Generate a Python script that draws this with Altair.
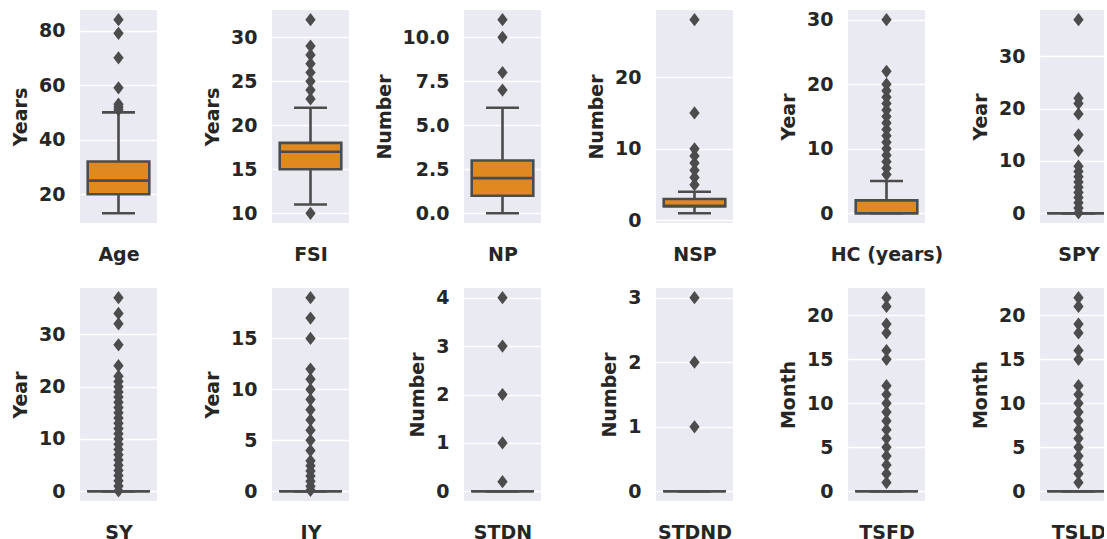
import altair as alt
import pandas as pd

# ---------------- data ----------------
names = ["Age", "FSI", "NP", "NSP", "HC (years)", "SPY",
         "SY", "IY", "STDN", "STDND", "TSFD", "TSLD"]
units = ["Years", "Years", "Number", "Number", "Year", "Year",
         "Year", "Year", "Number", "Number", "Month", "Month"]

whisk_lo = [13, 11, 0, 1, 0, 0, 0, 0, 0, 0, 0, 0]
q1 = [20, 15, 1, 2, 0, 0, 0, 0, 0, 0, 0, 0]
median = [25, 17, 2, 2, 0, 0, 0, 0, 0, 0, 0, 0]
q3 = [32, 18, 3, 3, 2, 0, 0, 0, 0, 0, 0, 0]
whisk_hi = [50, 22, 6, 4, 5, 0, 0, 0, 0, 0, 0, 0]

out_age = [51, 52, 53, 59, 70, 79, 84]
out_fsi = [10, 23, 24, 25, 26, 27, 28, 29, 32]
out_np = [7, 8, 10, 11]
out_nsp = [5, 6, 7, 8, 9, 10, 15, 28]
out_hc = [6, 7, 8, 9, 10, 11, 12, 13, 14, 15, 16, 17, 18, 19, 20, 22, 30]
out_spy = [0.1, 1, 2, 3, 4, 5, 6, 7, 8, 9, 12, 15, 19, 21, 22, 37]
out_sy = [0.1, 1, 2, 3, 4, 5, 6, 7, 8, 9, 10, 11, 12, 13, 14, 15, 16, 17,
          18, 19, 20, 21, 22, 24, 28, 32, 34, 37]
out_iy = [0.1, 0.5, 1, 1.5, 2, 2.5, 3, 4, 5, 6, 7, 8, 9, 10, 11, 12, 15, 17, 19]
out_stdn = [0.2, 1, 2, 3, 4]
out_stdnd = [1, 2, 3]
out_tsfd = [1, 2, 3, 4, 5, 6, 7, 8, 9, 10, 11, 12, 15, 16, 18, 19, 21, 22]
out_tsld = [1, 2, 3, 4, 5, 6, 7, 8, 9, 10, 11, 12, 15, 16, 18, 19, 21, 22]
outliers = [out_age, out_fsi, out_np, out_nsp, out_hc, out_spy,
            out_sy, out_iy, out_stdn, out_stdnd, out_tsfd, out_tsld]

ticks_age = [20, 40, 60, 80]
ticks_fsi = [10, 15, 20, 25, 30]
ticks_np = [0, 2.5, 5, 7.5, 10]
ticks_nsp = [0, 10, 20]
ticks_hc = [0, 10, 20, 30]
ticks_spy = [0, 10, 20, 30]
ticks_sy = [0, 10, 20, 30]
ticks_iy = [0, 5, 10, 15]
ticks_stdn = [0, 1, 2, 3, 4]
ticks_stdnd = [0, 1, 2, 3]
ticks_tsfd = [0, 5, 10, 15, 20]
ticks_tsld = [0, 5, 10, 15, 20]
tick_vals = [ticks_age, ticks_fsi, ticks_np, ticks_nsp, ticks_hc, ticks_spy,
             ticks_sy, ticks_iy, ticks_stdn, ticks_stdnd, ticks_tsfd, ticks_tsld]
tick_fmt = ["d", "d", ".1f", "d", "d", "d", "d", "d", "d", "d", "d", "d"]

# ---------------- styling ----------------
ORANGE = "#DF8920"
GRAY = "#4C4C4C"
TEXT = "#262626"
BG = "#EAEAF2"
FONT = "DejaVu Sans"
FS = 19
PW, PH = 77, 213
LW = 2.6
DIAMOND = "M0,-1L0.78,0L0,1L-0.78,0Z"


def panel(i):
    name = names[i]
    summ = pd.DataFrame({"var": [name], "lo": [whisk_lo[i]], "q1": [q1[i]],
                         "med": [median[i]], "q3": [q3[i]], "hi": [whisk_hi[i]]})
    outs = pd.DataFrame({"var": [name] * len(outliers[i]), "v": outliers[i]})
    vals = [whisk_lo[i], whisk_hi[i]] + outliers[i]
    mn, mx = min(vals), max(vals)
    pad = 0.05 * (mx - mn)
    ysc = alt.Scale(domain=[mn - pad, mx + pad], nice=False, zero=False)
    yax = alt.Axis(title=units[i], values=tick_vals[i], format=tick_fmt[i])
    xenc = alt.X("var:N", scale=alt.Scale(paddingInner=0, paddingOuter=0),
                 axis=alt.Axis(title=name, labels=False, ticks=False,
                               domain=False, grid=False, titlePadding=22))

    base = alt.Chart(summ).encode(x=xenc)
    w_low = base.mark_rule(color=GRAY, strokeWidth=LW).encode(
        y=alt.Y("lo:Q", scale=ysc, axis=yax), y2="q1:Q")
    w_up = base.mark_rule(color=GRAY, strokeWidth=LW).encode(
        y=alt.Y("q3:Q", scale=ysc, axis=yax), y2="hi:Q")
    cap_lo = base.mark_tick(color=GRAY, size=33, thickness=LW, opacity=1).encode(
        y=alt.Y("lo:Q", scale=ysc, axis=yax))
    cap_hi = base.mark_tick(color=GRAY, size=33, thickness=LW, opacity=1).encode(
        y=alt.Y("hi:Q", scale=ysc, axis=yax))
    box = base.mark_bar(width={"band": 0.8}, fill=ORANGE, stroke=GRAY,
                        strokeWidth=LW, opacity=1).encode(
        y=alt.Y("q1:Q", scale=ysc, axis=yax), y2="q3:Q")
    med = base.mark_tick(color=GRAY, size=63, thickness=LW, opacity=1).encode(
        y=alt.Y("med:Q", scale=ysc, axis=yax))
    fl = alt.Chart(outs).mark_point(shape=DIAMOND, filled=True, size=175,
                                    color=GRAY, opacity=1, strokeWidth=0).encode(
        x=xenc, y=alt.Y("v:Q", scale=ysc, axis=yax))
    return alt.layer(w_low, w_up, cap_lo, cap_hi, box, med, fl).properties(
        width=PW, height=PH)


chart = alt.concat(*[panel(i) for i in range(12)], columns=6,
                   spacing={"row": 65, "column": 115}, bounds="flush").properties(
    padding={"left": 11, "top": 10, "right": -13, "bottom": -2},
    background="white"
).configure_view(
    fill=BG, strokeWidth=0
).configure_axis(
    labelFont=FONT, labelFontSize=FS, labelFontWeight="bold", labelColor=TEXT,
    titleFont=FONT, titleFontSize=FS, titleFontWeight="bold", titleColor=TEXT,
    tickSize=0, domain=False, gridColor="white", gridWidth=1.6,
    labelPadding=15, labelOverlap=False
).configure_axisY(
    titlePadding=8
)

chart.save("out.html", embed_options={"renderer": "svg", "actions": False})
